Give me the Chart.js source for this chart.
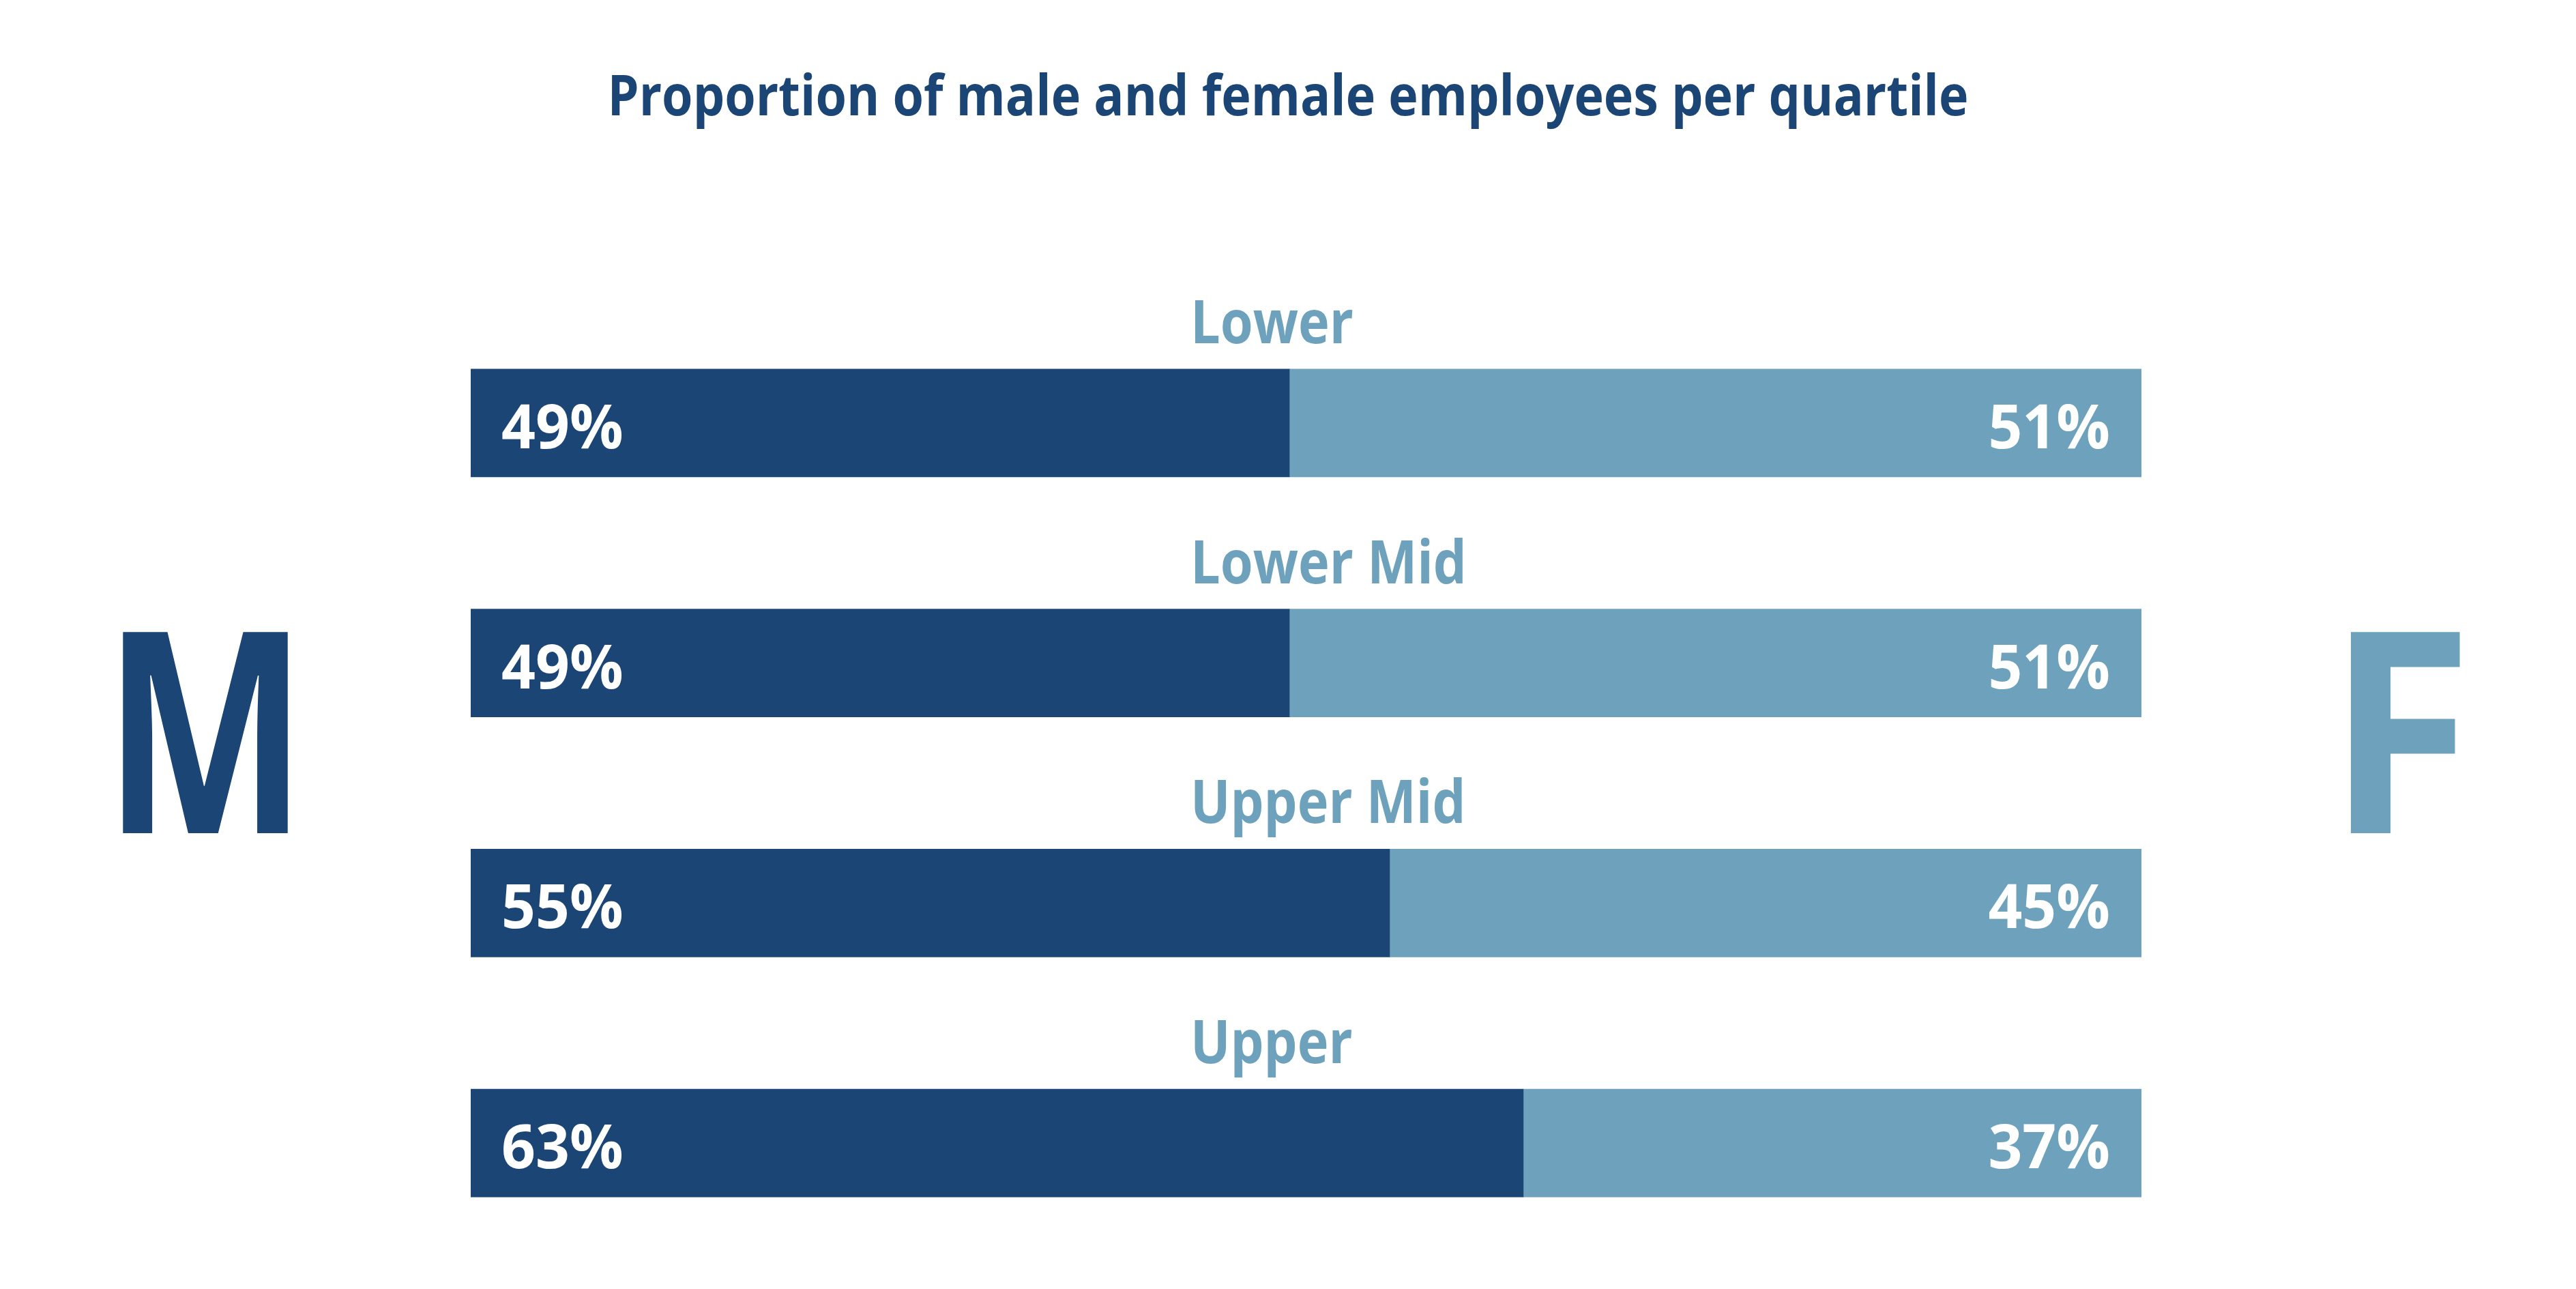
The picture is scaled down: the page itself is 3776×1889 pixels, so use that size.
<!DOCTYPE html>
<html>
<head>
<meta charset="utf-8">
<title>Proportion of male and female employees per quartile</title>
<script src="https://cdn.jsdelivr.net/npm/chart.js@4.4.1/dist/chart.umd.min.js"></script>
<style>
    html, body { margin: 0; padding: 0; background: #ffffff; }
    #wrap { width: 3776px; height: 1889px; }
</style>
</head>
<body>
<div id="wrap"><canvas id="quartileChart" width="3776" height="1889"></canvas></div>
<script>
// Chart data
const quartiles = ['Lower', 'Lower Mid', 'Upper Mid', 'Upper'];
const malePct = [49, 49, 55, 63];
const femalePct = [51, 51, 45, 37];
const chartTitle = 'Proportion of male and female employees per quartile';

const DARK = '#1B4574';
const LIGHT = '#6EA1BC';
const FONT = '"Open Sans", "Noto Sans", sans-serif';

// the original face is a narrow humanist sans, so text gets squeezed a little
let squeeze = 1;

function drawText(ctx, text, x, y, size, color, align, stretch = 1) {
    ctx.save();
    ctx.font = `bold ${size}px ${FONT}`;
    ctx.fillStyle = color;
    ctx.textAlign = 'left';
    ctx.textBaseline = 'alphabetic';
    const sx = squeeze * stretch;
    const w = ctx.measureText(text).width * sx;
    let x0 = x;
    if (align === 'center') x0 = x - w / 2;
    if (align === 'right') x0 = x - w;
    ctx.translate(x0, y);
    ctx.scale(sx, 1);
    ctx.fillText(text, 0, 0);
    ctx.restore();
}

// Draws title, quartile names, percentages and the M / F letters
const labelsPlugin = {
    id: 'quartileLabels',
    afterDatasetsDraw(chart) {
        const ctx = chart.ctx;

        ctx.save();
        ctx.font = `bold 82.6px ${FONT}`;
        squeeze = 1995 / ctx.measureText(chartTitle).width;
        ctx.restore();

        drawText(ctx, chartTitle, 1888, 169, 82.6, DARK, 'center');

        const male = chart.getDatasetMeta(0).data;
        const female = chart.getDatasetMeta(1).data;

        quartiles.forEach((name, i) => {
            const m = male[i];
            const f = female[i];
            const top = m.y - m.height / 2;

            drawText(ctx, name, 1745, top - 38, 87, LIGHT, 'left');
            drawText(ctx, malePct[i] + '%', m.base + 45, m.y + 37, 90, '#ffffff', 'left', 1.09);
            drawText(ctx, femalePct[i] + '%', f.x - 46, f.y + 37, 90, '#ffffff', 'right', 1.09);
        });

        drawText(ctx, 'M', 301, 1221, 413, DARK, 'center', 0.86);
        drawText(ctx, 'F', 3518, 1221, 413, LIGHT, 'center', 1.06);
    }
};

const ctx = document.getElementById('quartileChart').getContext('2d');
const chart = new Chart(ctx, {
    type: 'bar',
    data: {
        labels: quartiles,
        datasets: [
            {
                label: 'Male',
                data: malePct,
                backgroundColor: DARK,
                borderWidth: 0,
                barThickness: 158
            },
            {
                label: 'Female',
                data: femalePct,
                backgroundColor: LIGHT,
                borderWidth: 0,
                barThickness: 158
            }
        ]
    },
    options: {
        indexAxis: 'y',
        responsive: false,
        devicePixelRatio: 1,
        animation: false,
        layout: {
            padding: { left: 690, right: 637, top: 444, bottom: 38 }
        },
        scales: {
            x: { stacked: true, min: 0, max: 100, display: false },
            y: { stacked: true, display: false }
        },
        plugins: {
            legend: { display: false },
            title: { display: false },
            tooltip: { enabled: false }
        }
    },
    plugins: [labelsPlugin]
});
</script>
</body>
</html>
